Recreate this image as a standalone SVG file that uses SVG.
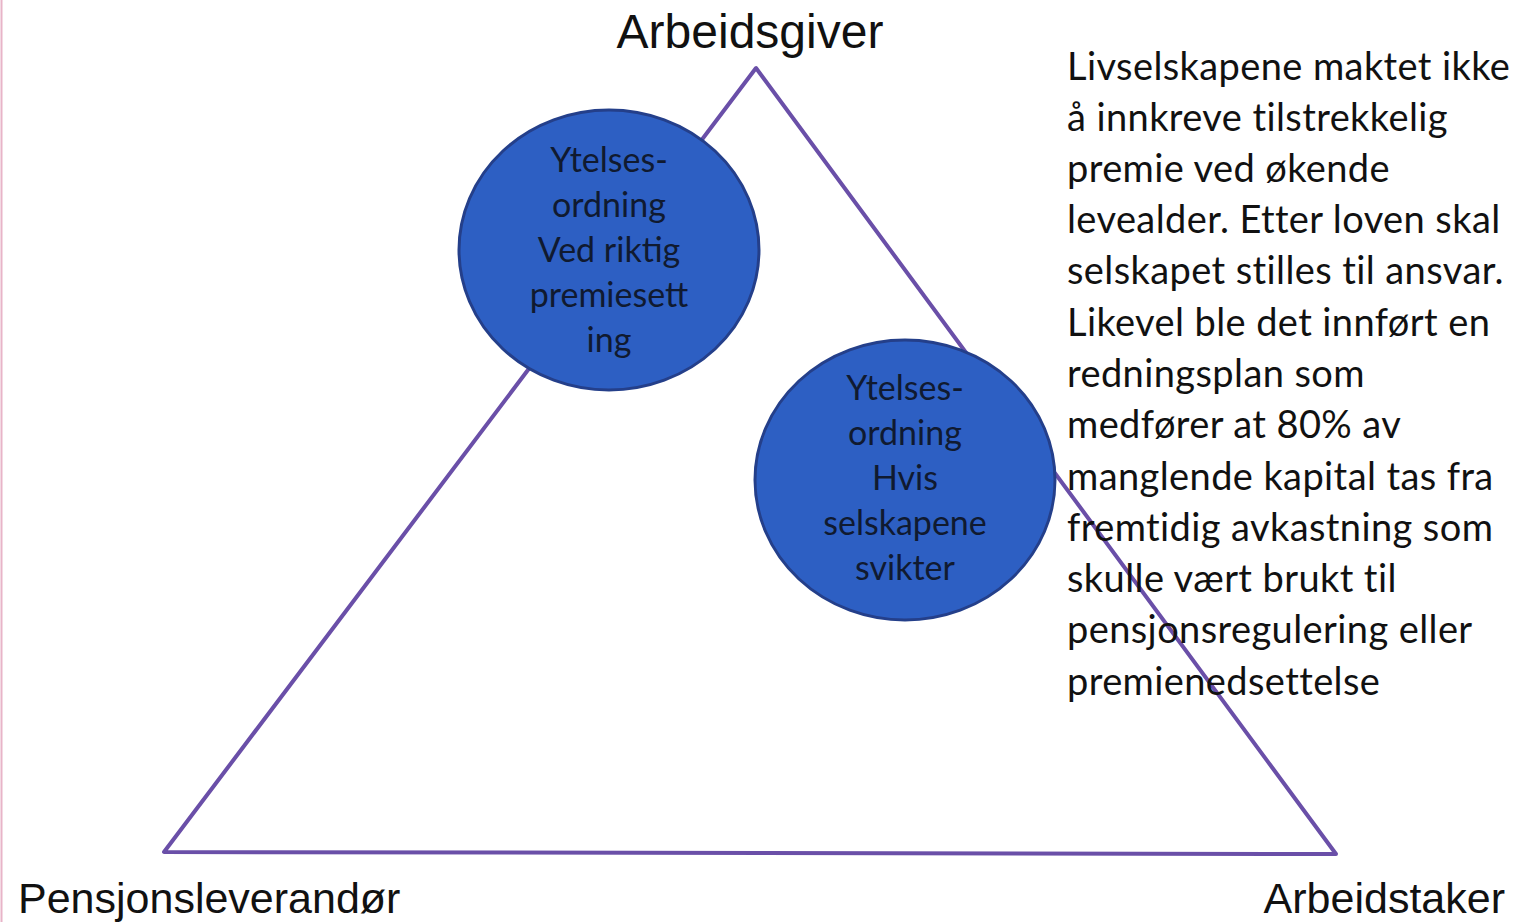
<svg xmlns="http://www.w3.org/2000/svg" width="1530" height="922" viewBox="0 0 1530 922">
<style>
.lbl{font-family:"Liberation Sans",Arial,sans-serif;font-size:43px;fill:#111}
.ct{font-family:Lato,"Open Sans",sans-serif;font-size:34px;fill:#101a30;text-anchor:middle}
.rt{font-family:Lato,"Open Sans",sans-serif;font-size:38px;letter-spacing:0.4px;fill:#111}
.circ{fill:#2d5fc3;stroke:#243f8a;stroke-width:3}
</style>
<rect width="1530" height="922" fill="#fff"/>
<line x1="1.5" y1="0" x2="1.5" y2="922" stroke="#e8b4c8" stroke-width="2"/>
<g id="connectors">
<polygon points="756,68 164,852 1336,854" fill="none" stroke="#6a4fa8" stroke-width="4" stroke-linejoin="round"/>
</g>
<g id="arbeidsgiver"><text class="lbl" x="750" y="48" text-anchor="middle" style="font-size:48px">Arbeidsgiver</text></g>
<g id="pensjonsleverandor"><text class="lbl" x="18" y="913">Pensjonsleverandør</text></g>
<g id="arbeidstaker"><text class="lbl" x="1505" y="913" text-anchor="end">Arbeidstaker</text></g>
<g id="circle1">
<ellipse class="circ" cx="609" cy="250" rx="150" ry="140"/>
<text class="ct" x="609" y="172">Ytelses-</text>
<text class="ct" x="609" y="217">ordning</text>
<text class="ct" x="609" y="262">Ved riktig</text>
<text class="ct" x="609" y="307">premiesett</text>
<text class="ct" x="609" y="352">ing</text>
</g>
<g id="circle2">
<ellipse class="circ" cx="905" cy="480" rx="150" ry="140"/>
<text class="ct" x="905" y="400">Ytelses-</text>
<text class="ct" x="905" y="445">ordning</text>
<text class="ct" x="905" y="490">Hvis</text>
<text class="ct" x="905" y="535">selskapene</text>
<text class="ct" x="905" y="580">svikter</text>
</g>
<g id="note">
<text class="rt" x="1067" y="80">Livselskapene maktet ikke</text>
<text class="rt" x="1067" y="131">å innkreve tilstrekkelig</text>
<text class="rt" x="1067" y="182">premie ved økende</text>
<text class="rt" x="1067" y="233">levealder. Etter loven skal</text>
<text class="rt" x="1067" y="284">selskapet stilles til ansvar.</text>
<text class="rt" x="1067" y="336">Likevel ble det innført en</text>
<text class="rt" x="1067" y="387">redningsplan som</text>
<text class="rt" x="1067" y="438">medfører at 80% av</text>
<text class="rt" x="1067" y="490">manglende kapital tas fra</text>
<text class="rt" x="1067" y="541">fremtidig avkastning som</text>
<text class="rt" x="1067" y="592">skulle vært brukt til</text>
<text class="rt" x="1067" y="643">pensjonsregulering eller</text>
<text class="rt" x="1067" y="695">premienedsettelse</text>
</g>
</svg>
